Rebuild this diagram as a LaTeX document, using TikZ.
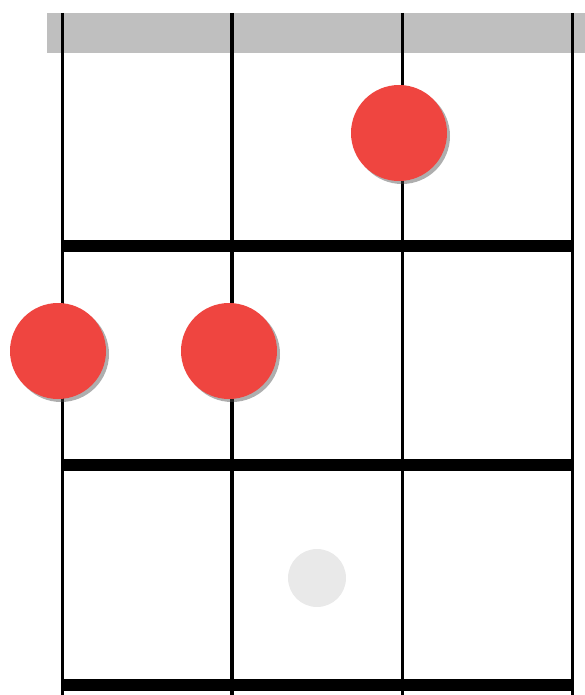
\documentclass[tikz,border=0pt]{standalone}
\usetikzlibrary{shadows}
\definecolor{rouge}{HTML}{EF4540}
\definecolor{sillet}{HTML}{BFBFBF}
\definecolor{fantome}{HTML}{E9E9E9}
\tikzset{
    doigt/.style={circle, fill=rouge, minimum size=96pt, inner sep=0pt,
        drop shadow={shadow xshift=3pt, shadow yshift=-3pt, opacity=.45, fill=black!70}},
    repere/.style={circle, fill=fantome, minimum size=58pt, inner sep=0pt},
}
\begin{document}
\begin{tikzpicture}[x=1pt, y=-1pt]
        \useasboundingbox (0, 0) rectangle (585, 695);
        % le sillet en haut
        \fill[sillet] (47, 13) rectangle (585, 53);
        % les cordes
        \foreach \corde/\epaisseur in {62/3, 232/4, 402/3, 572/3} {
            \draw[line width=\epaisseur pt] (\corde, 13) -- (\corde, 695);
        }
        % les frettes
        \foreach \frette in {246, 465, 685} {
            \draw[line width=12pt] (61, \frette) -- (573, \frette);
        }
        \node[repere] (repere) at (317, 578) {};
        \node[doigt] (doigt1) at (399, 133) {};
        \node[doigt] (doigt2) at (58, 351) {};
        \node[doigt] (doigt3) at (229, 351) {};
    \end{tikzpicture}
\end{document}
